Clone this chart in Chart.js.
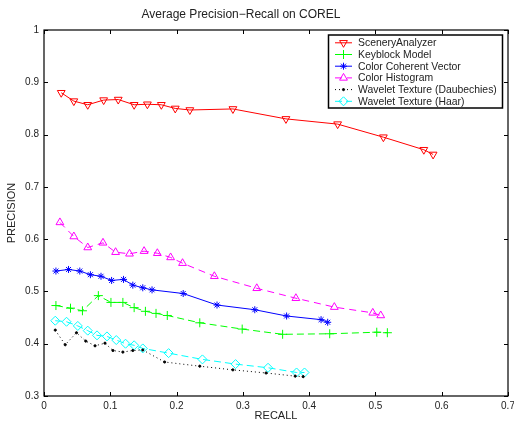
<!DOCTYPE html>
<html>
<head>
<meta charset="utf-8">
<script src="https://cdn.jsdelivr.net/npm/chart.js@4/dist/chart.umd.min.js"></script>
<style>
html, body { margin: 0; padding: 0; background: #fff; }
</style>
</head>
<body>
<canvas id="chart" width="514" height="423"></canvas>
<script>
// Data
const SERIES_NAMES = ['SceneryAnalyzer', 'Keyblock Model', 'Color Coherent Vector', 'Color Histogram', 'Wavelet Texture (Daubechies)', 'Wavelet Texture (Haar)'];

const SCENERY_RECALL = [0.026, 0.045, 0.066, 0.090, 0.112, 0.136, 0.156, 0.177, 0.198, 0.220, 0.285, 0.365, 0.443, 0.512, 0.573, 0.587];
const SCENERY_PRECISION = [0.880, 0.864, 0.857, 0.866, 0.867, 0.857, 0.858, 0.857, 0.850, 0.847, 0.849, 0.830, 0.820, 0.795, 0.771, 0.762];

const KEYBLOCK_RECALL = [0.018, 0.040, 0.058, 0.082, 0.101, 0.119, 0.136, 0.153, 0.169, 0.186, 0.235, 0.299, 0.360, 0.431, 0.502, 0.518];
const KEYBLOCK_PRECISION = [0.473, 0.468, 0.463, 0.492, 0.479, 0.479, 0.469, 0.462, 0.458, 0.454, 0.440, 0.428, 0.418, 0.419, 0.422, 0.421];

const CCV_RECALL = [0.018, 0.037, 0.054, 0.070, 0.086, 0.102, 0.120, 0.134, 0.149, 0.163, 0.210, 0.261, 0.318, 0.366, 0.418, 0.428];
const CCV_PRECISION = [0.539, 0.542, 0.539, 0.532, 0.529, 0.521, 0.523, 0.512, 0.507, 0.503, 0.496, 0.474, 0.465, 0.453, 0.446, 0.441];

const HIST_RECALL = [0.024, 0.045, 0.066, 0.089, 0.108, 0.129, 0.151, 0.171, 0.191, 0.209, 0.257, 0.321, 0.380, 0.438, 0.496, 0.508];
const HIST_PRECISION = [0.632, 0.605, 0.584, 0.593, 0.575, 0.572, 0.577, 0.573, 0.565, 0.554, 0.529, 0.506, 0.487, 0.470, 0.459, 0.454];

const DAUB_RECALL = [0.017, 0.032, 0.049, 0.063, 0.077, 0.092, 0.104, 0.119, 0.134, 0.149, 0.182, 0.235, 0.285, 0.335, 0.379, 0.391];
const DAUB_PRECISION = [0.426, 0.398, 0.421, 0.405, 0.396, 0.401, 0.387, 0.384, 0.387, 0.388, 0.365, 0.357, 0.350, 0.344, 0.338, 0.337];

const HAAR_RECALL = [0.017, 0.034, 0.051, 0.066, 0.080, 0.095, 0.109, 0.123, 0.136, 0.149, 0.188, 0.239, 0.289, 0.338, 0.381, 0.393];
const HAAR_PRECISION = [0.444, 0.442, 0.434, 0.425, 0.416, 0.414, 0.407, 0.400, 0.397, 0.391, 0.382, 0.370, 0.361, 0.354, 0.345, 0.345];

const X_TICKS = [0, 0.1, 0.2, 0.3, 0.4, 0.5, 0.6, 0.7];
const Y_TICKS = [0.3, 0.4, 0.5, 0.6, 0.7, 0.8, 0.9, 1];
const X_TICK_LABELS = ['0', '0.1', '0.2', '0.3', '0.4', '0.5', '0.6', '0.7'];
const Y_TICK_LABELS = ['0.3', '0.4', '0.5', '0.6', '0.7', '0.8', '0.9', '1'];

const CHART_TITLE = 'Average Precision\u2212Recall on COREL';
const X_TITLE = 'RECALL';
const Y_TITLE = 'PRECISION';

// Styles
const FONT_FAMILY = "'Liberation Sans', Arial, Helvetica, sans-serif";
const TEXT_COLOR = '#222222';
const TICK_LEN = 4;

const toPoints = (xs, ys) => xs.map((x, i) => ({ x: x, y: ys[i] }));

const makeSet = (idx, xs, ys, style) => Object.assign({
    label: SERIES_NAMES[idx],
    data: toPoints(xs, ys),
    borderWidth: 1,
    pointBorderWidth: 1,
    pointBackgroundColor: 'rgba(255,255,255,0)',
    tension: 0,
    fill: false
}, style);

const datasets = [
    makeSet(0, SCENERY_RECALL, SCENERY_PRECISION, { borderColor: '#ff0000', pointBorderColor: '#ff0000', pointStyle: 'triangle', pointRotation: 180, pointRadius: 4.5 }),
    makeSet(1, KEYBLOCK_RECALL, KEYBLOCK_PRECISION, { borderColor: '#00ff00', pointBorderColor: '#00ff00', pointStyle: 'cross', pointRadius: 4.5, borderDash: [7, 4] }),
    makeSet(2, CCV_RECALL, CCV_PRECISION, { borderColor: '#0000ff', pointBorderColor: '#0000ff', pointStyle: 'star', pointRadius: 3.5 }),
    makeSet(3, HIST_RECALL, HIST_PRECISION, { borderColor: '#ff00ff', pointBorderColor: '#ff00ff', pointStyle: 'triangle', pointRadius: 4.5, borderDash: [7, 5] }),
    makeSet(4, DAUB_RECALL, DAUB_PRECISION, { borderColor: '#000000', pointBorderColor: '#000000', pointBackgroundColor: '#000000', pointStyle: 'circle', pointRadius: 1.1, borderDash: [1, 3] }),
    makeSet(5, HAAR_RECALL, HAAR_PRECISION, { borderColor: '#00ffff', pointBorderColor: '#00ffff', pointStyle: 'rectRot', pointRadius: 4.5, borderDash: [7, 4] })
];

// Box, inward ticks on four sides, title and boxed legend
const matlabFrame = {
    id: 'matlabFrame',
    afterDatasetsDraw(chart) {
        const ctx = chart.ctx;
        const area = chart.chartArea;
        const xs = chart.scales.x;
        const ys = chart.scales.y;

        ctx.save();
        ctx.strokeStyle = '#000';
        ctx.lineWidth = 1;
        ctx.beginPath();
        for (const v of X_TICKS) {
            const px = Math.round(xs.getPixelForValue(v)) + 0.5;
            ctx.moveTo(px, area.bottom);
            ctx.lineTo(px, area.bottom - TICK_LEN);
            ctx.moveTo(px, area.top);
            ctx.lineTo(px, area.top + TICK_LEN);
        }
        for (const v of Y_TICKS) {
            const py = Math.round(ys.getPixelForValue(v)) + 0.5;
            ctx.moveTo(area.left, py);
            ctx.lineTo(area.left + TICK_LEN, py);
            ctx.moveTo(area.right, py);
            ctx.lineTo(area.right - TICK_LEN, py);
        }
        ctx.stroke();
        ctx.lineWidth = 1.2;
        ctx.strokeRect(area.left, area.top, area.right - area.left, area.bottom - area.top);

        // title
        ctx.fillStyle = TEXT_COLOR;
        ctx.font = '12px ' + FONT_FAMILY;
        ctx.textAlign = 'center';
        ctx.textBaseline = 'middle';
        ctx.fillText(CHART_TITLE, 241, 15);

        // legend
        const lx = 328.5, ly = 35, lw = 174, lh = 73;
        ctx.fillStyle = '#fff';
        ctx.fillRect(lx, ly, lw, lh);
        ctx.lineWidth = 1.5;
        ctx.strokeStyle = '#000';
        ctx.strokeRect(lx, ly, lw, lh);

        ctx.font = '10.4px ' + FONT_FAMILY;
        ctx.textAlign = 'left';
        chart.data.datasets.forEach((ds, i) => {
            const y = ly + 7.8 + i * 11.7;
            ctx.save();
            ctx.strokeStyle = ds.borderColor;
            ctx.lineWidth = 1;
            ctx.setLineDash(ds.borderDash || []);
            ctx.beginPath();
            ctx.moveTo(335, y);
            ctx.lineTo(352, y);
            ctx.stroke();
            ctx.setLineDash([]);
            ctx.fillStyle = ds.pointBackgroundColor;
            Chart.helpers.drawPoint(ctx, {
                pointStyle: ds.pointStyle,
                radius: ds.pointRadius,
                rotation: ds.pointRotation || 0,
                borderWidth: 1
            }, 343.5, y);
            ctx.restore();
            ctx.fillStyle = TEXT_COLOR;
            ctx.fillText(ds.label, 358, y + 0.5);
        });
        ctx.restore();
    }
};

Chart.defaults.font.family = FONT_FAMILY;
Chart.defaults.color = TEXT_COLOR;

const options = {
    responsive: false,
    animation: false,
    events: [],
    layout: { padding: { top: 30, right: 6, left: 0, bottom: 0 } },
    scales: {
        x: {
            type: 'linear',
            min: 0,
            max: 0.7,
            afterBuildTicks: (scale) => { scale.ticks = X_TICKS.map(v => ({ value: v })); },
            afterFit: (scale) => {
                scale.height = 27;
                scale.paddingLeft = 0;
                scale.paddingRight = 0;
            },
            grid: { display: false, drawTicks: false },
            border: { display: false },
            ticks: {
                padding: 4,
                font: { size: 10 },
                maxRotation: 0,
                callback: (value, index) => X_TICK_LABELS[index]
            },
            title: { display: true, text: X_TITLE, font: { size: 11 }, padding: 0 }
        },
        y: {
            type: 'linear',
            min: 0.3,
            max: 1,
            afterBuildTicks: (scale) => { scale.ticks = Y_TICKS.map(v => ({ value: v })); },
            afterFit: (scale) => {
                scale.width = 44;
                scale.paddingTop = 0;
                scale.paddingBottom = 0;
            },
            grid: { display: false, drawTicks: false },
            border: { display: false },
            ticks: {
                padding: 5,
                font: { size: 10 },
                callback: (value, index) => Y_TICK_LABELS[index]
            },
            title: { display: true, text: Y_TITLE, font: { size: 11 }, padding: { top: 5, bottom: 0 } }
        }
    },
    plugins: {
        legend: { display: false },
        title: { display: false },
        tooltip: { enabled: false }
    }
};

new Chart(document.getElementById('chart'), {
    type: 'line',
    data: { datasets: datasets },
    options: options,
    plugins: [matlabFrame]
});
</script>
</body>
</html>
